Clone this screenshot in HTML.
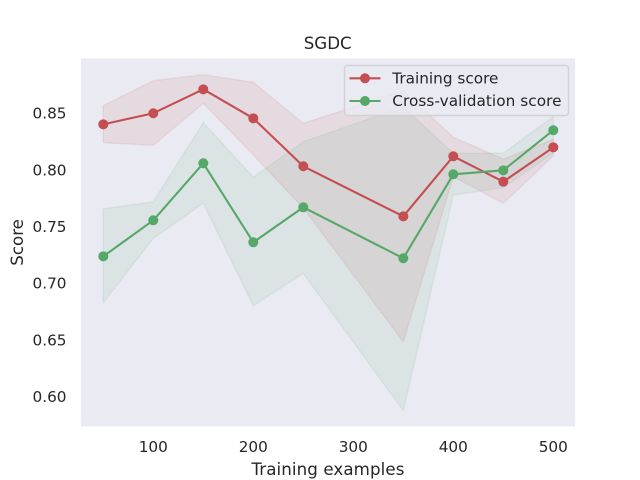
<!DOCTYPE html>
<html>
<head>
<meta charset="utf-8">
<title>SGDC learning curve</title>
<style>
html,body{margin:0;padding:0;background:#fff;width:640px;height:480px;overflow:hidden}
svg{display:block}
text{font-family:"DejaVu Sans","Liberation Sans",sans-serif;fill:#262626}
</style>
</head>
<body>
<svg id="chart" xmlns="http://www.w3.org/2000/svg" width="640" height="480" viewBox="0 0 640 480">
  <rect x="80" y="57.6" width="496" height="369.6" fill="#eaeaf2"/>
  <g id="bands"></g>
  <g id="lines"></g>
  <g fill="none" stroke="#fff" stroke-width="1.74">
    <rect x="80" y="57.6" width="496" height="369.6"/>
  </g>
  <g id="xticks"></g>
  <g id="yticks"></g>
  <text x="327.7" y="49" text-anchor="middle" font-size="16.67">SGDC</text>
  <text x="328" y="475" text-anchor="middle" font-size="16.67" letter-spacing="0.1">Training examples</text>
  <text transform="translate(23,242.4) rotate(-90)" text-anchor="middle" font-size="16.67">Score</text>
  <g>
    <rect x="344.5" y="65.5" width="224" height="50" rx="3" ry="3" fill="#eaeaf2" fill-opacity="0.8" stroke="#cccccc" stroke-opacity="0.8" stroke-width="1.39"/>
    <g>
      <line x1="349.5" x2="380.5" y1="78.3" y2="78.3" stroke="#c44e52" stroke-width="2.08"/>
      <circle cx="365" cy="78.3" r="5" fill="#c44e52"/>
      <text x="392.3" y="83.4" font-size="15.28">Training score</text>
    </g>
    <g>
      <line x1="349.5" x2="380.5" y1="101" y2="101" stroke="#55a868" stroke-width="2.08"/>
      <circle cx="365" cy="101" r="5" fill="#55a868"/>
      <text x="392.3" y="106" font-size="15.28" letter-spacing="0.06">Cross-validation score</text>
    </g>
  </g>
</svg>
<script>
const trainSizes = [50, 100, 150, 200, 250, 350, 400, 450, 500];
const trainMean  = [0.8402, 0.8500, 0.8711, 0.8455, 0.8032, 0.7590, 0.8120, 0.7896, 0.8199];
const trainUpper = [0.8567, 0.8787, 0.8840, 0.8773, 0.8411, 0.8696, 0.8288, 0.8096, 0.8268];
const trainLower = [0.8240, 0.8217, 0.8588, 0.8132, 0.7664, 0.6484, 0.7940, 0.7705, 0.8123];
const cvMean     = [0.7237, 0.7555, 0.8058, 0.7361, 0.7670, 0.7220, 0.7961, 0.7996, 0.8350];
const cvUpper    = [0.7655, 0.7719, 0.8417, 0.7935, 0.8249, 0.8555, 0.8147, 0.8147, 0.8470];
const cvLower    = [0.6828, 0.7396, 0.7705, 0.6801, 0.7087, 0.5875, 0.7778, 0.7843, 0.8149];
const xTickValues = [100, 200, 300, 400, 500];
const yTickValues = [0.60, 0.65, 0.70, 0.75, 0.80, 0.85];

const SVG_NS = 'http://www.w3.org/2000/svg';
const plotLeft = 80, plotRight = 576, plotTop = 57.6, plotBottom = 427.2;
const xDomainMin = 26.7, xDomainMax = 522.7;
const yDomainMin = 0.5729, yDomainMax = 0.8991;

function xScale(v) {
  return plotLeft + (v - xDomainMin) / (xDomainMax - xDomainMin) * (plotRight - plotLeft);
}
function yScale(v) {
  return plotBottom - (v - yDomainMin) / (yDomainMax - yDomainMin) * (plotBottom - plotTop);
}
function make(tag) {
  return document.createElementNS(SVG_NS, tag);
}

function drawBand(upper, lower, color, name) {
  const top = trainSizes.map(function (s, i) { return xScale(s).toFixed(2) + ',' + yScale(upper[i]).toFixed(2); });
  const bottom = trainSizes.map(function (s, i) { return xScale(s).toFixed(2) + ',' + yScale(lower[i]).toFixed(2); }).reverse();
  const poly = make('polygon');
  
  
  poly.setAttribute('points', top.concat(bottom).join(' '));
  poly.setAttribute('fill', color);
  poly.setAttribute('fill-opacity', '0.1');
  poly.setAttribute('stroke', color);
  poly.setAttribute('stroke-opacity', '0.1');
  poly.setAttribute('stroke-width', '1.39');
  document.getElementById('bands').appendChild(poly);
}

function drawLine(values, color, lineName, pointName) {
  const group = document.getElementById('lines');
  const pts = trainSizes.map(function (s, i) { return xScale(s).toFixed(2) + ',' + yScale(values[i]).toFixed(2); });
  const line = make('polyline');
  
  
  line.setAttribute('points', pts.join(' '));
  line.setAttribute('fill', 'none');
  line.setAttribute('stroke', color);
  line.setAttribute('stroke-width', '2.08');
  line.setAttribute('stroke-linejoin', 'round');
  group.appendChild(line);
  trainSizes.forEach(function (s, i) {
    const c = make('circle');
    
    
    c.setAttribute('cx', xScale(s).toFixed(2));
    c.setAttribute('cy', yScale(values[i]).toFixed(2));
    c.setAttribute('r', '5');
    c.setAttribute('fill', color);
    group.appendChild(c);
  });
}

drawBand(trainUpper, trainLower, '#c44e52', 'training-score-band');
drawBand(cvUpper, cvLower, '#55a868', 'cross-validation-score-band');
drawLine(trainMean, '#c44e52', 'training-score-line', 'training-score-point');
drawLine(cvMean, '#55a868', 'cross-validation-score-line', 'cross-validation-score-point');

xTickValues.forEach(function (v) {
  const t = make('text');
  
  
  t.setAttribute('x', xScale(v).toFixed(2));
  t.setAttribute('y', '452');
  t.setAttribute('text-anchor', 'middle');
  t.setAttribute('font-size', '15.28');
  t.textContent = String(v);
  document.getElementById('xticks').appendChild(t);
});

yTickValues.forEach(function (v) {
  const t = make('text');
  
  
  t.setAttribute('x', '66.5');
  t.setAttribute('y', (yScale(v) + 5.5).toFixed(2));
  t.setAttribute('text-anchor', 'end');
  t.setAttribute('font-size', '15.28');
  t.textContent = v.toFixed(2);
  document.getElementById('yticks').appendChild(t);
});
</script>
</body>
</html>
